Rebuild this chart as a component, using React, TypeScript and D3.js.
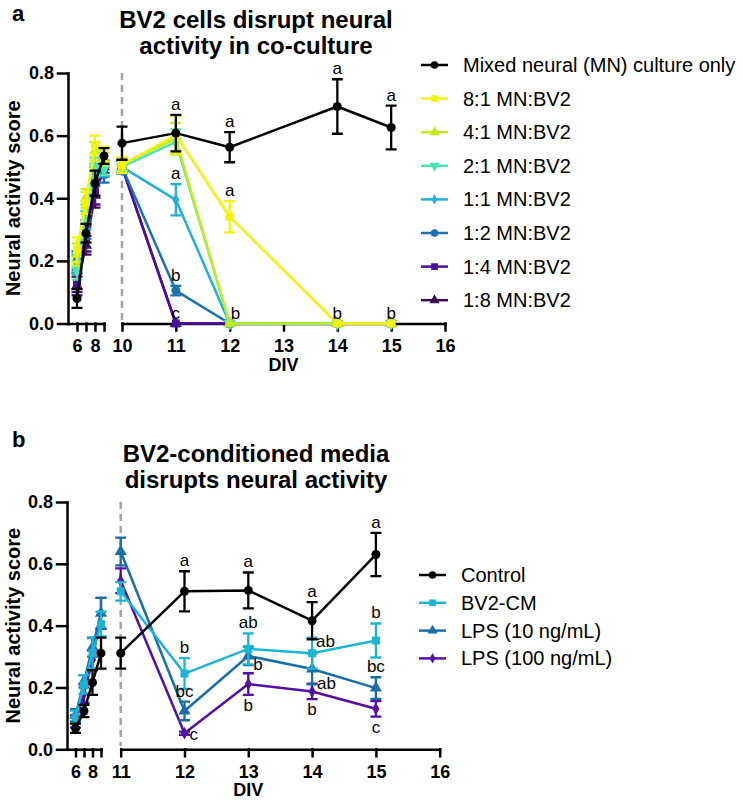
import React, { useEffect, useRef } from "react";
import * as d3 from "d3";

const FONT = "'Liberation Sans', Arial, Helvetica, sans-serif";

// ---- panel a: co-culture ----
const daysA = [6, 7, 8, 9, 10, 11, 12, 14, 15];
const mnOnly = [0.08, 0.288, 0.448, 0.535, 0.576, 0.608, 0.563, 0.693, 0.626];
const mnOnlyErr = [0.03, 0.03, 0.04, 0.025, 0.053, 0.058, 0.048, 0.087, 0.07];
const r8to1 = [0.235, 0.385, 0.57, 0.54, 0.506, 0.602, 0.341, 0, 0];
const r8to1Err = [0.04, 0.035, 0.03, 0.025, 0.025, 0.06, 0.05, 0, 0];
const r4to1 = [0.22, 0.4, 0.55, 0.525, 0.51, 0.59, 0, 0, 0];
const r4to1Err = [0.035, 0.03, 0.03, 0.02, 0.02, 0.05, 0, 0, 0];
const r2to1 = [0.17, 0.35, 0.5, 0.495, 0.5, 0.58, 0, 0, 0];
const r2to1Err = [0.03, 0.03, 0.03, 0.02, 0.02, 0.04, 0, 0, 0];
const r1to1 = [0.19, 0.33, 0.48, 0.49, 0.5, 0.395, 0, 0, 0];
const r1to1Err = [0.03, 0.03, 0.03, 0.02, 0.02, 0.05, 0, 0, 0];
const r1to2 = [0.2, 0.3, 0.47, 0.475, 0.5, 0.105, 0, 0, 0];
const r1to2Err = [0.03, 0.03, 0.03, 0.025, 0.02, 0.015, 0, 0, 0];
const r1to4 = [0.13, 0.27, 0.42, 0.49, 0.5, 0, 0, 0, 0];
const r1to4Err = [0.03, 0.04, 0.04, 0.02, 0.02, 0, 0, 0, 0];
const r1to8 = [0.12, 0.25, 0.41, 0.5, 0.5, 0, 0, 0, 0];
const r1to8Err = [0.03, 0.03, 0.04, 0.02, 0.02, 0, 0, 0, 0];

const namesA = [
  "Mixed neural (MN) culture only",
  "8:1 MN:BV2",
  "4:1 MN:BV2",
  "2:1 MN:BV2",
  "1:1 MN:BV2",
  "1:2 MN:BV2",
  "1:4 MN:BV2",
  "1:8 MN:BV2",
];
const colorsA = ["#000000", "#f2f20c", "#c2ec1c", "#4ee3b2", "#20b0d2", "#1a72ae", "#4c0c9c", "#3c0f5c"];
const symbolsA = ["circle", "square", "triUp", "triDown", "diamond", "circle", "square", "triUp"];

// [series, day, letter, placement]
const lettersA: [number, number, string, string][] = [
  [0, 11, "a", "top"], [4, 11, "a", "top"], [5, 11, "b", "top"], [6, 11, "c", "top"],
  [0, 12, "a", "top"], [1, 12, "a", "top"], [2, 12, "b", "topRight"],
  [0, 14, "a", "top"], [1, 14, "b", "top"],
  [0, 15, "a", "top"], [1, 15, "b", "top"],
];

// ---- panel b: conditioned media ----
const daysB = [6, 7, 8, 9, 11, 12, 13, 14, 15];
const control = [0.068, 0.124, 0.216, 0.311, 0.311, 0.511, 0.514, 0.416, 0.63];
const controlErr = [0.015, 0.02, 0.04, 0.05, 0.05, 0.065, 0.058, 0.06, 0.07];
const bv2cm = [0.105, 0.21, 0.312, 0.405, 0.511, 0.245, 0.325, 0.311, 0.352];
const bv2cmErr = [0.02, 0.03, 0.05, 0.04, 0.03, 0.05, 0.05, 0.05, 0.055];
const lps10 = [0.11, 0.22, 0.33, 0.44, 0.64, 0.124, 0.302, 0.26, 0.198];
const lps10Err = [0.02, 0.02, 0.03, 0.05, 0.045, 0.03, 0.03, 0.05, 0.035];
const lps100 = [0.09, 0.18, 0.29, 0.44, 0.545, 0.052, 0.211, 0.187, 0.131];
const lps100Err = [0.02, 0.03, 0.03, 0.05, 0.04, 0.005, 0.035, 0.025, 0.025];

const namesB = ["Control", "BV2-CM", "LPS (10 ng/mL)", "LPS (100 ng/mL)"];
const colorsB = ["#000000", "#1db4d4", "#1a6ea6", "#520fa2"];
const symbolsB = ["circle", "square", "triUp", "diamond"];

const lettersB: [number, number, string, string][] = [
  [0, 12, "a", "top"], [1, 12, "b", "top"], [2, 12, "bc", "top"], [3, 12, "c", "right"],
  [0, 13, "a", "top"], [1, 13, "ab", "top"], [2, 13, "b", "rightBottom"], [3, 13, "b", "bottom"],
  [0, 14, "a", "top"], [1, 14, "ab", "rightTop"], [2, 14, "ab", "rightBottom"], [3, 14, "b", "bottom"],
  [0, 15, "a", "top"], [1, 15, "b", "top"], [2, 15, "bc", "top"], [3, 15, "c", "bottom"],
];

const yTicks = [0, 0.2, 0.4, 0.6, 0.8];

function symbolPath(kind: string, size: number) {
  const type =
    kind === "circle" ? d3.symbolCircle :
    kind === "square" ? d3.symbolSquare :
    kind === "diamond" ? d3.symbolDiamond : d3.symbolTriangle;
  return d3.symbol().type(type).size(size)();
}

function drawPanel(svg: any, cfg: any) {
  const { days, series, letters, y, x1, x2, splitDay, axisX, legendX, legendY, legendStep } = cfg;
  const x = (d: number) => (d < splitDay ? x1(d) : x2(d));
  const g = svg.append("g");

  // y axis
  const ya = g.append("g").attr("transform", `translate(${axisX},0)`)
    .call(d3.axisLeft(y).tickValues(yTicks).tickFormat(d3.format(".1f")).tickSize(10).tickSizeOuter(0).tickPadding(4));
  // x axes (broken)
  const y0 = y(0);
  const xa1 = g.append("g").attr("transform", `translate(0,${y0})`)
    .call(d3.axisBottom(x1).tickValues(cfg.ticks1).tickFormat((d: any) => (cfg.labels1.includes(d) ? String(d) : ""))
      .tickSize(7).tickSizeOuter(0).tickPadding(9));
  const xa2 = g.append("g").attr("transform", `translate(0,${y0})`)
    .call(d3.axisBottom(x2).tickValues(cfg.ticks2).tickFormat(d3.format("d")).tickSize(7).tickSizeOuter(0).tickPadding(9));
  [ya, xa1, xa2].forEach((a: any) => {
    a.selectAll("path,line").attr("stroke", "#000").attr("stroke-width", 2.5).attr("stroke-linecap", "square");
    a.selectAll("text").attr("fill", "#000").style("font-family", FONT).style("font-weight", "bold").style("font-size", "18px");
  });

  // dashed marker at the start of the second segment
  g.append("line")
    .attr("x1", x2(splitDay)).attr("x2", x2(splitDay))
    .attr("y1", y(0.8)).attr("y2", y0 - 3)
    .attr("stroke", "#a3a3a3").attr("stroke-width", 2.5).attr("stroke-dasharray", "7,5");

  g.append("text").attr("x", x2(13)).attr("y", y0 + 47).attr("text-anchor", "middle")
    .style("font-family", FONT).style("font-weight", "bold").style("font-size", "18px").text("DIV");

  g.append("text")
    .attr("transform", `translate(20,${(y(0) + y(0.8)) / 2}) rotate(-90)`)
    .attr("text-anchor", "middle")
    .style("font-family", FONT).style("font-weight", "bold").style("font-size", "20px")
    .text("Neural activity score");

  const line = d3.line<any>().x((p) => x(p.d)).y((p) => y(p.v));

  // draw last series first so the first ones sit on top
  [...series].reverse().forEach((s: any) => {
    const pts = days.map((d: number, i: number) => ({ d, v: s.values[i], e: s.errors[i] }));
    const sg = g.append("g");
    const seg1 = pts.filter((p: any) => p.d < splitDay);
    const seg2 = pts.filter((p: any) => p.d >= splitDay);
    [seg1, seg2].forEach((seg) => {
      sg.append("path").attr("d", line(seg)).attr("fill", "none")
        .attr("stroke", s.color).attr("stroke-width", 2.5).attr("stroke-linejoin", "round");
    });
    pts.filter((p: any) => p.e > 0).forEach((p: any) => {
      const px = x(p.d);
      const top = y(p.v + p.e), bot = y(p.v - p.e);
      const cap = 5.5;
      sg.append("path")
        .attr("d", `M${px},${top}V${bot}M${px - cap},${top}H${px + cap}M${px - cap},${bot}H${px + cap}`)
        .attr("stroke", s.color).attr("stroke-width", 2.3).attr("fill", "none");
    });
    pts.forEach((p: any) => {
      sg.append("path")
        .attr("d", symbolPath(s.symbol, s.symbol === "diamond" ? 45 : 64))
        .attr("transform", `translate(${x(p.d)},${y(p.v)})${s.symbol === "triDown" ? " rotate(180)" : ""}`)
        .attr("fill", s.color);
    });
  });

  // significance letters
  letters.forEach(([si, day, txt, place]: any) => {
    const s = series[si];
    const i = days.indexOf(day);
    const v = s.values[i], e = s.errors[i];
    const px = x(day);
    let tx = px, ty = y(v + e) - 5, anchor = "middle";
    if (place === "bottom") ty = y(v - e) + 16;
    if (place === "topRight") { tx = px + 1; anchor = "start"; }
    if (place === "right") { tx = px + 5; ty = y(v) + 7; anchor = "start"; }
    if (place === "rightTop") { tx = px + 4; ty = y(v + e) + 9; anchor = "start"; }
    if (place === "rightBottom") { tx = px + 5; ty = y(v - e) + 5; anchor = "start"; }
    g.append("text").attr("x", tx).attr("y", ty).attr("text-anchor", anchor)
      .style("font-family", FONT).style("font-size", "17px").attr("fill", "#000").text(txt);
  });

  // legend
  series.forEach((s: any, i: number) => {
    const ly = legendY + i * legendStep;
    const lg = g.append("g").attr("transform", `translate(${legendX},${ly})`);
    lg.append("line").attr("x1", 0).attr("x2", 27).attr("stroke", s.color).attr("stroke-width", 2.5);
    lg.append("path").attr("d", symbolPath(s.symbol, s.symbol === "diamond" ? 30 : 45))
      .attr("transform", `translate(13.5,0)${s.symbol === "triDown" ? " rotate(180)" : ""}`)
      .attr("fill", s.color);
    lg.append("text").attr("x", 42).attr("y", 0).attr("dy", "0.35em")
      .style("font-family", FONT).style("font-size", "20px").attr("fill", "#000").text(s.name);
  });
}

export default function App() {
  const ref = useRef<SVGSVGElement>(null);

  useEffect(() => {
    const svg = d3.select(ref.current);
    svg.selectAll("*").remove();

    const valsA = [mnOnly, r8to1, r4to1, r2to1, r1to1, r1to2, r1to4, r1to8];
    const errsA = [mnOnlyErr, r8to1Err, r4to1Err, r2to1Err, r1to1Err, r1to2Err, r1to4Err, r1to8Err];
    const seriesA = namesA.map((name, i) => ({
      name, color: colorsA[i], symbol: symbolsA[i], values: valsA[i], errors: errsA[i],
    }));
    const valsB = [control, bv2cm, lps10, lps100];
    const errsB = [controlErr, bv2cmErr, lps10Err, lps100Err];
    const seriesB = namesB.map((name, i) => ({
      name, color: colorsB[i], symbol: symbolsB[i], values: valsB[i], errors: errsB[i],
    }));

    const titleStyle = (t: any) =>
      t.attr("text-anchor", "middle").style("font-family", FONT).style("font-weight", "bold").style("font-size", "24px");
    const label = (t: any) => t.style("font-family", FONT).style("font-weight", "bold").style("font-size", "22px");

    label(svg.append("text").attr("x", 12).attr("y", 21).text("a"));
    titleStyle(svg.append("text").attr("x", 256).attr("y", 28).text("BV2 cells disrupt neural"));
    titleStyle(svg.append("text").attr("x", 256).attr("y", 54).text("activity in co-culture"));

    drawPanel(svg, {
      days: daysA, series: seriesA, letters: lettersA,
      y: d3.scaleLinear().domain([0, 0.8]).range([323.5, 73]),
      x1: d3.scaleLinear().domain([5, 9]).range([68, 104]),
      x2: d3.scaleLinear().domain([10, 16]).range([122, 445]),
      ticks1: [6, 7, 8, 9], labels1: [6, 8], ticks2: d3.range(10, 17),
      splitDay: 10, axisX: 68, legendX: 421, legendY: 65, legendStep: 33.6,
    });

    label(svg.append("text").attr("x", 12).attr("y", 447).text("b"));
    titleStyle(svg.append("text").attr("x", 256).attr("y", 462).text("BV2-conditioned media"));
    titleStyle(svg.append("text").attr("x", 256).attr("y", 488).text("disrupts neural activity"));

    drawPanel(svg, {
      days: daysB, series: seriesB, letters: lettersB,
      y: d3.scaleLinear().domain([0, 0.8]).range([749.3, 502]),
      x1: d3.scaleLinear().domain([5, 9]).range([67, 101]),
      x2: d3.scaleLinear().domain([11, 16]).range([120.7, 439.7]),
      ticks1: [6, 7, 8, 9], labels1: [6, 8], ticks2: d3.range(11, 17),
      splitDay: 11, axisX: 67, legendX: 419, legendY: 575, legendStep: 27.8,
    });
  }, []);

  return (
    <svg
      ref={ref}
      width={743}
      height={812}
      style={{ position: "absolute", left: 0, top: 0, background: "#fff" }}
    />
  );
}
